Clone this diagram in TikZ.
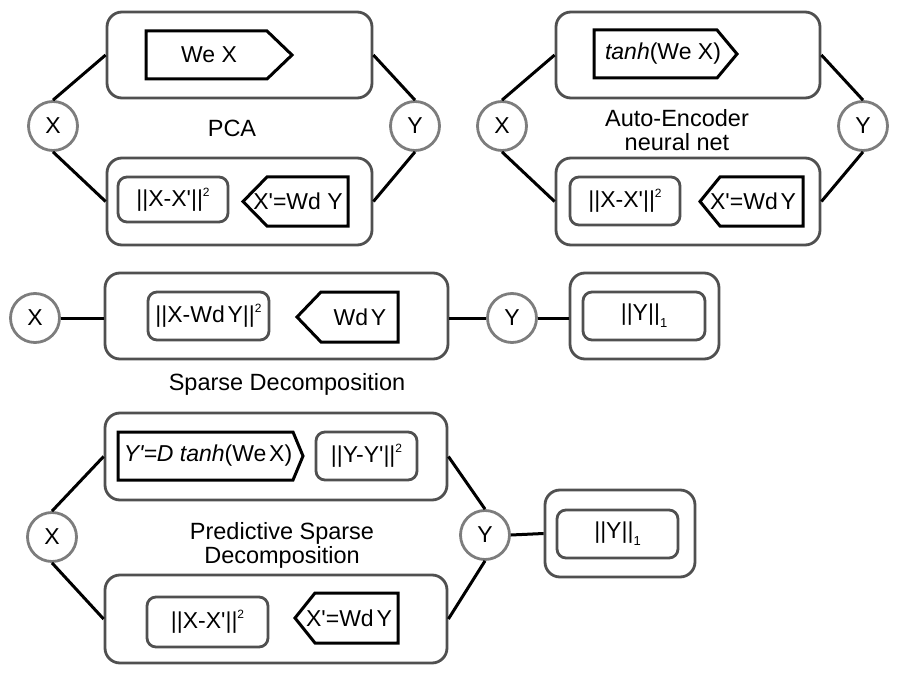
\documentclass[tikz,border=0pt]{standalone}
\usepackage{fontspec}
\setmainfont{Liberation Sans}
\usetikzlibrary{calc}
\definecolor{boxgray}{RGB}{80,80,80}
\definecolor{circgray}{RGB}{125,125,125}
\newcommand{\sqr}{\raisebox{0.45em}{\fontsize{12}{12}\selectfont 2}}
\newcommand{\subone}{\raisebox{-0.3em}{\fontsize{13}{13}\selectfont 1}}
\newcommand{\ap}{\textquotesingle}
\newcommand{\ns}{\hspace{0.12em}}
\begin{document}
\begin{tikzpicture}[x=1pt,y=-1pt,
  outerbox/.style={draw=boxgray,line width=2.8pt,rounded corners=15pt,inner sep=0pt},
  innerbox/.style={draw=boxgray,line width=2.8pt,rounded corners=9pt,inner sep=0pt,font=\fontsize{23}{27}\selectfont},
  circ/.style={circle,draw=circgray,line width=2.8pt,minimum size=49pt,inner sep=0pt,font=\fontsize{23}{27}\selectfont},
  conn/.style={line width=3pt,black},
  pent/.style={line width=3pt,black,line join=miter},
  txt/.style={inner sep=0pt,font=\fontsize{23}{27}\selectfont},
  lbl/.style={inner sep=0pt,align=center,font=\fontsize{23.5}{27}\selectfont}]
\path[fill=white] (0,0) rectangle (900,674);
\useasboundingbox (0,0) rectangle (900,674);

% ---------------- PCA ----------------
\node[outerbox,minimum width=265pt,minimum height=86pt] (pcaT) at (239.5,55) {};
\node[outerbox,minimum width=265pt,minimum height=87pt] (pcaB) at (239.5,201.5) {};
\draw[pent] (146,31) -- (267,31) -- (292,55) -- (267,79) -- (146,79) -- cycle;
\node[txt] (pcaWe) at (209,55) {We X};
\node[innerbox,minimum width=110pt,minimum height=45pt] (pcaErr) at (173,199.5) {||X-X\ap||\sqr};
\draw[pent] (243,201.5) -- (267,177) -- (348,177) -- (348,226) -- (267,226) -- cycle;
\node[txt] (pcaWd) at (298,201) {X\ap=Wd Y};
\node[lbl] (pcaL) at (232,128) {PCA};
\node[circ] (pcaX) at (53,126) {X};
\node[circ] (pcaY) at (415,126) {Y};
\draw[conn] (pcaX.north) -- (pcaT.west);
\draw[conn] (pcaX.south) -- (pcaB.west);
\draw[conn] (pcaT.east) -- (pcaY.north);
\draw[conn] (pcaB.east) -- (pcaY.south);

% ---------------- Auto-Encoder ----------------
\node[outerbox,minimum width=264pt,minimum height=86pt] (aeT) at (688,55) {};
\node[outerbox,minimum width=264pt,minimum height=87pt] (aeB) at (688,201.5) {};
\draw[pent] (594,30) -- (717,30) -- (737,54) -- (717,78) -- (594,78) -- cycle;
\node[txt] (aeTanh) at (663,54) {\textit{tanh}(We X)};
\node[innerbox,minimum width=110pt,minimum height=48pt] (aeErr) at (625,201) {||X-X\ap||\sqr};
\draw[pent] (700,201.5) -- (720,177) -- (803,177) -- (803,226) -- (720,226) -- cycle;
\node[txt] (aeWd) at (753,201) {X\ap=Wd\ns Y};
\node[lbl] (aeL) at (677,130) {Auto-Encoder\\[-3pt]neural net};
\node[circ] (aeX) at (502,126) {X};
\node[circ] (aeY) at (863,126) {Y};
\draw[conn] (aeX.north) -- (aeT.west);
\draw[conn] (aeX.south) -- (aeB.west);
\draw[conn] (aeT.east) -- (aeY.north);
\draw[conn] (aeB.east) -- (aeY.south);

% ---------------- Sparse Decomposition ----------------
\node[outerbox,minimum width=343pt,minimum height=86pt] (sdB) at (276.5,316) {};
\node[innerbox,minimum width=121pt,minimum height=48pt] (sdErr) at (208.5,316) {||X-Wd\ns Y||\sqr};
\draw[pent] (297,317) -- (321,292) -- (398,292) -- (398,342) -- (321,342) -- cycle;
\node[txt] (sdWd) at (360,317) {Wd\ns Y};
\node[outerbox,minimum width=149pt,minimum height=86pt] (sdL1o) at (644.5,316) {};
\node[innerbox,minimum width=122pt,minimum height=48pt] (sdL1) at (644,316) {||Y||\subone};
\node[lbl] (sdL) at (287,384) {Sparse Decomposition};
\node[circ] (sdX) at (35,318) {X};
\node[circ] (sdY) at (512,318) {Y};
\draw[conn] (sdX.east) -- (sdX.east -| sdB.west);
\draw[conn] (sdY.west -| sdB.east) -- (sdY.west);
\draw[conn] (sdY.east) -- (sdY.east -| sdL1o.west);

% ---------------- Predictive Sparse Decomposition ----------------
\node[outerbox,minimum width=342pt,minimum height=87pt] (psT) at (276,456.5) {};
\node[outerbox,minimum width=342pt,minimum height=88pt] (psB) at (276,619) {};
\draw[pent] (118,432) -- (293,432) -- (303,456) -- (293,480) -- (118,480) -- cycle;
\node[txt] (psEnc) at (208,456) {\textit{Y\ap=D tanh}(We\ns X)};
\node[innerbox,minimum width=101pt,minimum height=48pt] (psErrY) at (366.5,456) {||Y-Y\ap||\sqr};
\node[innerbox,minimum width=121pt,minimum height=50pt] (psErrX) at (207.5,622) {||X-X\ap||\sqr};
\draw[pent] (295,618) -- (315,593) -- (398,593) -- (398,643) -- (315,643) -- cycle;
\node[txt] (psWd) at (349,618) {X\ap=Wd\ns Y};
\node[lbl] (psL) at (282,545) {Predictive Sparse\\[-3pt]Decomposition};
\node[outerbox,minimum width=150pt,minimum height=87pt] (psL1o) at (620,533.5) {};
\node[innerbox,minimum width=121pt,minimum height=48pt] (psL1) at (617.5,534) {||Y||\subone};
\node[circ] (psX) at (52,537) {X};
\node[circ] (psY) at (485,535) {Y};
\draw[conn] (psX.north) -- (psT.west);
\draw[conn] (psX.south) -- (psB.west);
\draw[conn] (psT.east) -- (psY.north);
\draw[conn] (psB.east) -- (psY.south);
\draw[conn] (psY.east) -- (psL1o.west);
\end{tikzpicture}
\end{document}
